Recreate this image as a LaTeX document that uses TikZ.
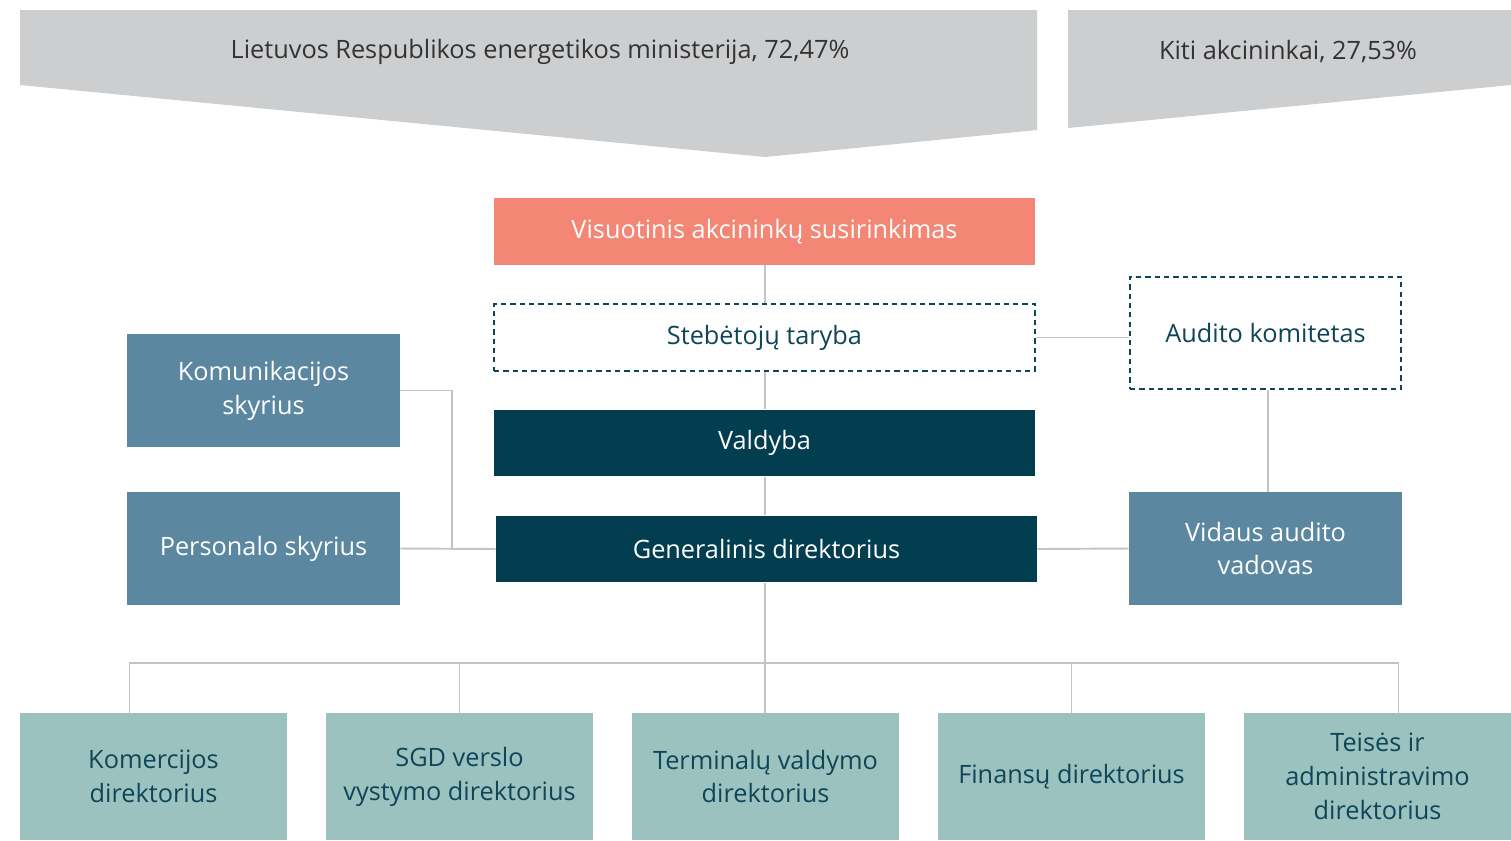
\documentclass[tikz,border=0pt]{standalone}
\usepackage{fontspec}
\setmainfont{Open Sans}
\usepackage{tikz}
\usetikzlibrary{positioning}
\definecolor{salmon}{HTML}{F38674}
\definecolor{navy}{HTML}{033D50}
\definecolor{steel}{HTML}{5B87A0}
\definecolor{sea}{HTML}{9BC2BF}
\definecolor{greyfill}{HTML}{CDCED0}
\definecolor{ink}{HTML}{0E4558}
\definecolor{wire}{HTML}{C4C4C4}
\begin{document}
\begin{tikzpicture}[x=0.02cm,y=-0.02cm,
  every node/.style={font=\fontsize{14.4}{19.3}\selectfont,align=center,inner sep=0pt},
  wide/.style={minimum width=10.82cm,minimum height=1.33cm},
  dept/.style={fill=steel,text=white,minimum width=5.46cm,minimum height=2.26cm},
  dir/.style={fill=sea,text=ink,minimum width=5.34cm,minimum height=2.54cm},
  dbox/.style={draw=ink,dash pattern=on 3pt off 2.3pt,line width=1.1pt,fill=white,text=ink},
  link/.style={draw=wire,line width=1.1pt}]
\useasboundingbox (0,0) rectangle (1511,840);
% owners
\fill[greyfill] (20,10) -- (1037,10) -- (1037,130) -- (765,157) -- (20,85) -- cycle;
\fill[greyfill] (1068,10) -- (1511,10) -- (1511,85) -- (1068,128) -- cycle;
\node[text=black!80] (lr) at (540,52) {Lietuvos Respublikos energetikos ministerija, 72,47\%};
\node[text=black!80] (kiti) at (1288,52) {Kiti akcininkai, 27,53\%};
% management
\node[wide,fill=salmon,text=white] (vas) at (764.5,231.5) {Visuotinis akcininkų susirinkimas};
\node[wide,dbox] (st) at (764.5,337.5) {Stebėtojų taryba};
\node[dbox,minimum width=5.42cm,minimum height=2.24cm] (ak) at (1265.5,333) {Audito komitetas};
\node[wide,fill=navy,text=white] (val) at (764.5,443) {Valdyba};
\node[wide,fill=navy,text=white] (gd) at (766.5,549) {Generalinis direktorius};
\node[dept] (kom) at (263.5,390.5) {Komunikacijos\\skyrius};
\node[dept] (per) at (263.5,548.5) {Personalo skyrius};
\node[dept] (vav) at (1265.5,548.5) {Vidaus audito\\vadovas};
% directors
\node[dir] (d1) at (153.5,776.5) {Komercijos\\direktorius};
\node[dir] (d2) at (459.5,776.5) {SGD verslo\\vystymo direktorius};
\node[dir] (d3) at (765.5,776.5) {Terminalų valdymo\\direktorius};
\node[dir] (d4) at (1071.5,776.5) {Finansų direktorius};
\node[dir] (d5) at (1377.5,776.5) {Teisės ir\\administravimo\\direktorius};
\coordinate (j) at (452,549);
\coordinate (b) at (765,663);
\draw[link] (vas.south -| b) -- (st.north -| b);
\draw[link] (st.south -| b) -- (val.north -| b);
\draw[link] (val.south -| b) -- (gd.north -| b);
\draw[link] (st.east) -- (ak.west |- st.east);
\draw[link] ([xshift=0.05cm]ak.south) -- ([xshift=0.05cm]vav.north);
\draw[link] (gd.east) -- (vav.west);
\draw[link] (per.east) -- (gd.west);
\draw[link] (kom.east) -| (j);
\draw[link] (gd.south -| b) -- (d3.north -| b);
\draw[link] ([xshift=-0.48cm]d1.north) |- (b) -| ([xshift=0.42cm]d5.north);
\draw[link] (d2.north) |- (b);
\draw[link] (d4.north) |- (b);
\end{tikzpicture}
\end{document}
